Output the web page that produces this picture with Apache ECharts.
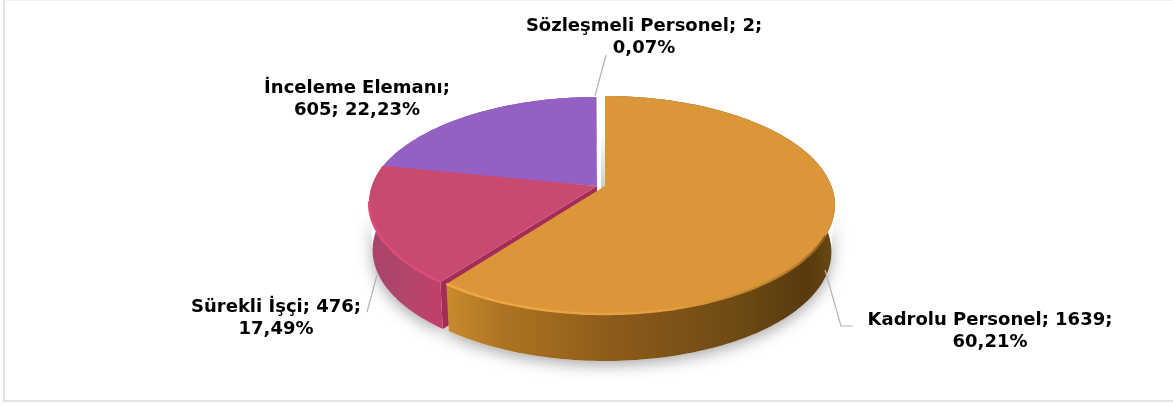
<!DOCTYPE html>
<html><head><meta charset="utf-8">
<style>html,body{margin:0;padding:0;background:#fff}#c{width:1173px;height:405px}</style>
<script src="https://cdn.jsdelivr.net/npm/echarts@6/dist/echarts.min.js"></script>
</head><body><div id="c"></div>
<script>
const categories=['Kadrolu Personel','Sürekli İşçi','İnceleme Elemanı','Sözleşmeli Personel'];
const values=[1639,476,605,2];
const labelLines=[['Kadrolu Personel; 1639;','60,21%'],['Sürekli İşçi; 476;','17,49%'],['İnceleme Elemanı;','605; 22,23%'],['Sözleşmeli Personel; 2;','0,07%']];

// layout and style only
const apex={x:597,y:186}, Rx=226, D=0.1835, B=-71.2, depth=47, backScale=0.985;
const tipShift=[{x:8,y:0},{x:0,y:0},{x:0,y:0},{x:0,y:0}];
const arcShift=[{x:8,y:-1},{x:2,y:-3},{x:0,y:0},{x:0,y:0}];
const labelPos=[[990,331],[276,318],[357,99],[644,37]];
const leaders=[[[825,270],[841,326],[853,326]],[[377,275],[367,312]],[],[[595,96],[606,55]]];
const topColors=['#DB963A','#C94A70','#9560C4','#CFCFCF'];
const rimStops=[
 [[0,'#EFAA46'],[0.55,'#E6A03E'],[0.9,'#B87C28'],[1,'#80541A']],
 [[0,'#DA4E7A'],[1,'#DA4C78']],null,null];
const rimStart=[48,15,999,999];
const sideStops=[
 [[0,'#C88A2C'],[0.15,'#AC7322'],[0.45,'#8A5A1A'],[0.75,'#6E4A14'],[0.93,'#573A0F'],[1,'#6A4A14']],
 [[0,'#A8446A'],[0.6,'#B4456C'],[1,'#C0406A']],
 [[0,'#7A4CA0'],[1,'#7A4CA0']],[[0,'#CFCFCF'],[1,'#CFCFCF']]];
const wallColor='#A52C58';

const total=values.reduce((a,b)=>a+b,0);
function project(theta,sh){
  const s=Math.sin(theta),c=Math.cos(theta),w=1+D*c;
  return [apex.x+sh.x+Rx*s/w,(apex.y+B*c)/w+sh.y];
}
function lower(p,sh){
  const cx=apex.x+sh.x;
  return [cx+(p[0]-cx)*backScale,p[1]+depth];
}
function hgrad(x1,x2,stops){
  return {type:'linear',x:x1,y:0,x2:x2,y2:0,global:true,colorStops:stops.map(s=>({offset:s[0],color:s[1]}))};
}
function renderSlice(params,api){
  const i=params.dataIndex, v=api.value(0), sh=arcShift[i];
  let before=0; for(let k=0;k<i;k++) before+=values[k];
  const a0=before/total*2*Math.PI, a1=(before+v)/total*2*Math.PI;
  const n=Math.max(2,Math.ceil((a1-a0)/0.02));
  const arc=[]; for(let k=0;k<=n;k++) arc.push(project(a0+(a1-a0)*k/n,sh));
  const low=arc.map(p=>lower(p,sh));
  const tip=[apex.x+tipShift[i].x,apex.y+tipShift[i].y];
  const base=10+(3-i)*10;      // back slices first, exploded slice last
  const xs=arc.map(p=>p[0]), x1=Math.min(...xs), x2=Math.max(...xs);
  const kids=[];
  // soft ground shadow, only under the front of the pie
  const fr=arc.map((p,k)=>k).filter(k=>arc[k][1]>apex.y+15);
  if(fr.length>1){
    const f=fr.map(k=>arc[k]), g=fr.map(k=>low[k]).reverse();
    kids.push({type:'polygon',z2:1,shape:{points:f.concat(g)},
      style:{fill:'#fff',shadowColor:'rgba(0,0,0,0.34)',shadowBlur:15,shadowOffsetX:0,shadowOffsetY:4}});
  }
  // radial wall where the exploded slice left a gap
  if(i===1){
    const st=arc[0];
    kids.push({type:'polygon',z2:base,shape:{points:[tip,st,lower(st,sh),[tip[0],tip[1]+depth]]},
      style:{fill:wallColor}});
  }
  // faint shading in the gap behind the exploded slice
  if(i===0){
    kids.push({type:'polygon',z2:2,shape:{points:[[tip[0]-4,tip[1]-52],[tip[0],tip[1]-52],[tip[0],tip[1]+2],[tip[0]-4,tip[1]+2]]},
      style:{fill:{type:'linear',x:0,y:0,x2:0,y2:1,colorStops:[{offset:0,color:'rgba(190,190,190,0)'},{offset:1,color:'rgba(190,190,190,0.8)'}]}}});
  }
  // outer side
  kids.push({type:'polygon',z2:base+1,shape:{points:arc.concat(low.slice().reverse())},
    style:{fill:hgrad(x1,x2,sideStops[i])}});
  // top face
  kids.push({type:'polygon',z2:base+2,shape:{points:[tip].concat(arc)},style:{fill:topColors[i]}});
  // bevel highlight along the front rim
  if(rimStops[i]){
    const front=arc.filter(p=>p[1]>apex.y+rimStart[i]);
    kids.push({type:'polyline',z2:base+3,shape:{points:front},
      style:{fill:'none',stroke:hgrad(x1,x2,rimStops[i]),lineWidth:2.4}});
  }
  // leader line
  if(leaders[i].length){
    kids.push({type:'polyline',z2:60,shape:{points:leaders[i]},
      style:{fill:'none',stroke:'#B4B4B4',lineWidth:1.2}});
  }
  // label
  kids.push({type:'text',z2:70,x:labelPos[i][0],y:labelPos[i][1],
    style:{text:labelLines[i].join('\n'),align:'center',verticalAlign:'middle',
      fontFamily:'DejaVu Sans',fontWeight:'bold',fontSize:18,lineHeight:22,fill:'#000'}});
  return {type:'group',children:kids};
}
const chart=echarts.init(document.getElementById('c'),null,{renderer:'canvas'});
chart.setOption({
  animation:false,
  backgroundColor:'#fff',
  graphic:[
    {type:'polyline',z:-1,shape:{points:[[4,0],[4,401],[1173,401]]},style:{fill:'none',stroke:'#E3E3E3',lineWidth:2}},
    {type:'polyline',z:-1,shape:{points:[[4,0.5],[1173,0.5]]},style:{fill:'none',stroke:'#EFEFEF',lineWidth:1}}
  ],
  series:[{type:'custom',coordinateSystem:'none',silent:true,
    data:values.map((v,i)=>({name:categories[i],value:[v]})),
    renderItem:renderSlice}]
});
</script></body></html>
